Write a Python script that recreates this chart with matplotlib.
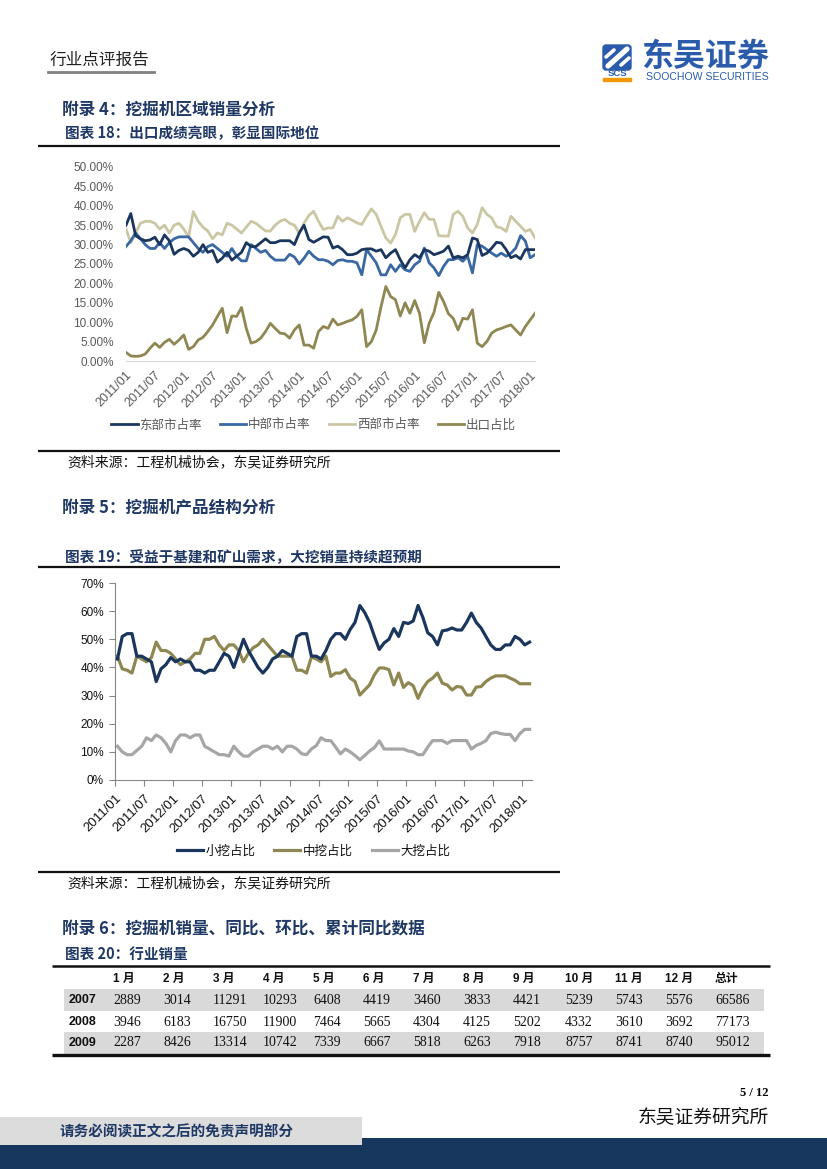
import matplotlib.pyplot as plt
from matplotlib.patches import Rectangle, FancyBboxPatch

plt.rcParams['font.family'] = ['Noto Sans CJK SC', 'DejaVu Sans']

W, H = 827, 1169
AZUL = '#1F3864'

# ================================================================
# DATOS
# ================================================================
etiquetas_meses = ['2011/01', '2011/07', '2012/01', '2012/07', '2013/01', '2013/07', '2014/01', '2014/07',
                   '2015/01', '2015/07', '2016/01', '2016/07', '2017/01', '2017/07', '2018/01']

# Figura 18 (%), 2011/01 - 2018/02
este = [35, 38, 32.3, 31.5, 31, 31.2, 31.9, 30, 32.5, 31, 27.5, 28.5, 29, 28.5, 27, 28, 30, 28, 28.5, 25.5,
        26.5, 28, 26, 27, 28, 30.5, 29.5, 29.5, 30.5, 31.5, 30.5, 30.5, 31, 31, 31, 30, 33, 35, 31.3, 30.6,
        31.3, 32, 31.9, 29.1, 29.6, 28.7, 27.4, 27.4, 27.8, 28.7, 28.9, 28.9, 28.3, 28.7, 26.6, 27.8, 28.7, 26.1, 24, 26.1,
        27.4, 26.6, 28.7, 28.3, 27.4, 27.8, 28.3, 29.6, 26.6, 27, 26.6, 27.4, 31.7, 31.3, 27.2, 27.8, 29.1, 30.6, 30.4, 28.7,
        26.6, 27.2, 26.3, 28.7, 28.7, 28.7]
centro = [29.5, 31, 33, 31.5, 30, 29, 29, 30.5, 29, 30.5, 31.5, 32, 32, 32, 30.5, 29, 28, 29.5, 30, 29,
          28, 27, 29, 27, 25.8, 25.8, 30, 29, 28, 28.5, 27, 26, 26, 26, 27.5, 26.8, 25, 26.5, 28.3, 27,
          26.1, 26.1, 25.7, 24.8, 25.9, 26.1, 25.7, 25.7, 25.3, 22.2, 28.7, 27, 25.3, 22.2, 22.2, 24.8, 23.1, 24.8, 23.5, 23.1,
          24.8, 25.7, 29.1, 25.3, 24, 22, 24.4, 26.1, 26.1, 26.6, 25.7, 27, 22.7, 30, 29.6, 28.7, 27.8, 27, 27.8, 27,
          27.8, 29.1, 32.3, 30.9, 26.6, 27.4]
oeste = [34, 30.5, 33, 35.5, 36, 36, 35.5, 34, 35, 33, 35, 35.5, 34, 32, 38.5, 36, 34.5, 33.5, 31.5, 33,
         32.5, 35.5, 35, 34, 33, 34.5, 36, 35.5, 34.5, 33.5, 33.5, 35, 36, 36.5, 35.5, 35, 33, 35.5, 37.5, 38.6,
         36, 33.9, 34.3, 34.3, 37.3, 36, 36.9, 36.3, 35.6, 35.2, 37.3, 39.2, 37.8, 34.7, 31.7, 30.4, 32.6, 36.9, 37.8, 37.8,
         33.4, 36, 38.2, 36.5, 36.5, 32.3, 32.2, 32.2, 37.8, 38.6, 37.3, 34.3, 33, 35.2, 39.5, 37.8, 36.9, 34.6, 34.3, 33.4,
         37.3, 36, 34.7, 33.4, 33.9, 31.7]
exportacion = [2.2, 1.3, 1.2, 1.3, 1.8, 3.3, 4.6, 3.5, 4.8, 5.6, 4.3, 5.4, 6.7, 3.0, 3.7, 5.4, 6.1, 7.6, 9.3, 11.5,
               13.6, 7.3, 11.6, 11.5, 13.8, 8.4, 4.6, 5, 5.9, 7.6, 9.7, 8.4, 7.2, 7, 5.9, 8, 9.3, 4.1, 4.1, 3.3,
               7.6, 8.9, 8.4, 10.8, 9.3, 9.7, 10.2, 10.6, 11.5, 13.2, 3.7, 5, 8, 14, 19.2, 16.6, 15.8, 11.6, 15, 12.3,
               15.6, 12.3, 4.7, 9.7, 12.5, 17.7, 15.3, 12.2, 11, 8, 11, 10.8, 13.2, 4.6, 3.7, 5, 7.2, 8, 8.4, 8.9,
               9.3, 8, 6.7, 8.9, 10.6, 12.3]

# Figura 19 (%), 2011/01 - 2018/02
pequena = [43, 51, 52, 52, 44, 44, 43, 42, 35, 39.5, 41, 43.5, 42, 43, 42, 42, 39, 39, 38, 39,
           39, 42, 45, 44, 40, 45, 50, 46, 43, 40, 38, 40, 43, 44, 46, 45, 44, 51, 52, 52,
           44, 44, 43, 46, 50, 52, 52, 50, 53.5, 56, 62, 59.5, 56, 51, 46.4, 48.7, 50, 53.8, 51, 56,
           55.6, 56.5, 62, 57.7, 52.3, 51, 48, 53, 53.3, 54, 53.3, 53.3, 56, 59.3, 56, 54, 51, 48, 46.4, 46.4,
           48, 48, 51, 50, 48, 49]
mediana = [44, 39.5, 39, 38, 44, 43, 42, 43.5, 49, 46, 46, 45, 43, 41, 42, 43, 45, 45, 50, 50,
           51, 48, 46, 48, 48, 46, 42, 45, 47, 48, 50, 48, 46, 44, 44, 44, 44, 39, 39, 38,
           43.7, 43, 42, 44, 36.8, 38, 38, 39.2, 36.2, 35, 30.2, 32, 33.8, 37.4, 39.8, 39.8, 39.2, 33.8, 38, 32.9,
           34.6, 33.5, 29, 32.6, 35, 36.2, 38, 34.4, 33.8, 32, 33.2, 33, 30.2, 30.2, 33, 33.2, 35, 36.2, 37, 37,
           37, 36.2, 35.4, 34.2, 34.2, 34.2]
grande = [12, 10, 9, 9, 10.5, 12, 15, 14, 16, 15, 13, 10, 14, 16, 16, 15, 16, 16, 12, 11,
          10, 9, 9, 8.5, 12, 10, 8.5, 8.5, 10, 11, 12, 12, 11, 12, 10, 12, 12, 11, 9.3, 9,
          11, 12.2, 15, 14, 14, 11.7, 9.3, 11, 10, 8.7, 7.2, 8.7, 10.3, 11.5, 13.9, 11, 11, 11, 11, 11,
          10.3, 10, 9, 9, 11.7, 14, 14, 14, 13, 14, 14, 14, 14, 11, 12.3, 13, 14, 16.5, 17, 16.5,
          16.2, 16.2, 14, 16.5, 18, 18]

# Figura 20: ventas de la industria
cabecera_tabla = ['1 月', '2 月', '3 月', '4 月', '5 月', '6 月', '7 月', '8 月', '9 月', '10 月', '11 月', '12 月', '总计']
anios_tabla = ['2007', '2008', '2009']
ventas_2007 = [2889, 3014, 11291, 10293, 6408, 4419, 3460, 3833, 4421, 5239, 5743, 5576, 66586]
ventas_2008 = [3946, 6183, 16750, 11900, 7464, 5665, 4304, 4125, 5202, 4332, 3610, 3692, 77173]
ventas_2009 = [2287, 8426, 13314, 10742, 7339, 6667, 5818, 6263, 7918, 8757, 8741, 8740, 95012]


def caja(l, t, r, b):
    return [l / W, 1 - b / H, (r - l) / W, (b - t) / H]


fig = plt.figure(figsize=(8.27, 11.69), dpi=100)
bg = fig.add_axes([0, 0, 1, 1])
bg.set_xlim(0, W)
bg.set_ylim(H, 0)
bg.axis('off')

# ================================================================
# CABECERA
# ================================================================
bg.text(50, 60, '行业点评报告', fontsize=12, color='#222222', va='center')
bg.plot([48, 154], [72, 72], color='#808080', lw=2)

bg.add_patch(FancyBboxPatch((603, 45), 28, 25, boxstyle='round,pad=0,rounding_size=3', color='#2B5CAB'))
bg.plot([608, 627], [66, 49], color='white', lw=3.8, solid_capstyle='round')
bg.plot([606, 614], [57, 50], color='white', lw=2.6, solid_capstyle='round')
bg.plot([621, 629], [65, 58], color='white', lw=2.6, solid_capstyle='round')
bg.text(617, 74, 'SCS', fontsize=6.8, fontweight='bold', color='#2B5CAB', ha='center', va='center',
        family='Liberation Sans')
bg.add_patch(Rectangle((603, 78), 28, 3, color='#F39800'))
bg.text(769, 57, '东吴证券', fontsize=23, fontweight='bold', color='#2B5CAB', ha='right', va='center')
bg.text(769, 76.5, 'SOOCHOW SECURITIES', fontsize=7.6, color='#2B5CAB', ha='right', va='center',
        family='Liberation Sans')


def titulo(y, texto, tam):
    bg.text(62 if tam > 11 else 65, y, texto, fontsize=tam, fontweight='bold', color=AZUL, va='center')


def regla(y, x0=38, x1=560, lw=1.6):
    bg.plot([x0, x1], [y, y], color='#111111', lw=lw, solid_capstyle='butt')


titulo(110, '附录 4：挖掘机区域销量分析', 12)
titulo(133, '图表 18：出口成绩亮眼，彰显国际地位', 10.5)
regla(146)

# ================================================================
# FIGURA 18
# ================================================================
ax1 = fig.add_axes(caja(126, 167, 535, 361))
x1 = range(len(este))
l1, = ax1.plot(x1, este, color='#1B365D', lw=2.0, label='东部市占率', zorder=4)
l2, = ax1.plot(x1, centro, color='#3A68A3', lw=2.0, label='中部市占率', zorder=3)
l3, = ax1.plot(x1, oeste, color='#CBC6A4', lw=2.0, label='西部市占率', zorder=2)
l4, = ax1.plot(x1, exportacion, color='#8E8752', lw=2.0, label='出口占比', zorder=3)
ax1.set_xlim(0, len(este) - 1)
ax1.set_ylim(0, 50)
for s in ['top', 'right', 'left']:
    ax1.spines[s].set_visible(False)
ax1.spines['bottom'].set_color('#D9D9D9')
ax1.set_yticks(range(0, 51, 5))
ax1.set_yticklabels([f'{v:.2f}%' for v in range(0, 51, 5)], family='Liberation Sans', fontsize=8.5, color='#595959')
ax1.set_xticks(range(0, len(este), 6))
ax1.set_xticklabels(etiquetas_meses, rotation=45, ha='right', rotation_mode='anchor',
                    family='Liberation Sans', fontsize=9, color='#595959')
ax1.tick_params(axis='both', length=0)
ax1.tick_params(axis='y', pad=9)
ax1.tick_params(axis='x', pad=6)

fig.legend(handles=[l1, l2, l3, l4], loc='center', bbox_to_anchor=(313.5 / W, 1 - 425 / H), ncol=4,
           frameon=False, prop={'size': 9}, handlelength=2.1, handletextpad=0.15, columnspacing=1.45,
           labelcolor='#595959')

regla(451)
bg.text(67, 462, '资料来源：工程机械协会，东吴证券研究所', fontsize=10, color='#111111', va='center')

# ================================================================
# FIGURA 19
# ================================================================
titulo(508, '附录 5：挖掘机产品结构分析', 12)
titulo(557, '图表 19：受益于基建和矿山需求，大挖销量持续超预期', 10.5)
regla(567)

ax2 = fig.add_axes(caja(115, 583, 532, 780))
x2 = range(len(pequena))
m1, = ax2.plot(x2, pequena, color='#1B365D', lw=2.3, label='小挖占比', zorder=4)
m2, = ax2.plot(x2, mediana, color='#8E8752', lw=2.3, label='中挖占比', zorder=3)
m3, = ax2.plot(x2, grande, color='#A6A6A6', lw=2.3, label='大挖占比', zorder=2)
ax2.set_xlim(-0.5, len(pequena) - 0.5)
ax2.set_ylim(0, 70)
for s in ['top', 'right']:
    ax2.spines[s].set_visible(False)
for s in ['left', 'bottom']:
    ax2.spines[s].set_color('#868686')
ax2.set_yticks(range(0, 71, 10))
ax2.set_yticklabels([f'{v}%' for v in range(0, 71, 10)], family='Liberation Sans', fontsize=8.5, color='#111111')
ax2.set_xticks([k - 0.5 for k in range(0, len(pequena), 6)])
ax2.set_xticklabels(etiquetas_meses, rotation=45, ha='right', rotation_mode='anchor',
                    family='Liberation Sans', fontsize=9.5, color='#111111')
ax2.tick_params(axis='both', length=4, color='#868686', direction='out')
ax2.tick_params(axis='y', pad=4)
ax2.tick_params(axis='x', pad=5)

fig.legend(handles=[m1, m2, m3], loc='center', bbox_to_anchor=(313.5 / W, 1 - 851 / H), ncol=3,
           frameon=False, prop={'size': 9}, handlelength=2.1, handletextpad=0.2, columnspacing=1.5,
           labelcolor='#111111')

regla(872)
bg.text(67, 883, '资料来源：工程机械协会，东吴证券研究所', fontsize=10, color='#111111', va='center')

# ================================================================
# FIGURA 20 (tabla)
# ================================================================
titulo(929, '附录 6：挖掘机销量、同比、环比、累计同比数据', 12)
titulo(955, '图表 20：行业销量', 10.5)

filas = [ventas_2007, ventas_2008, ventas_2009]
y_filas = [1000, 1022, 1043]
x_cols = [113 + 50 * i + (2 if i >= 9 else 0) for i in range(len(cabecera_tabla))]

for i, y in enumerate(y_filas):
    if i % 2 == 0:
        bg.add_patch(Rectangle((64, y - 11), 700, 21.5, color='#D9D9D9', lw=0))
regla(966, 52, 770, 1.8)
regla(1055, 52, 770, 2.4)

for x, cab in zip(x_cols, cabecera_tabla):
    bg.text(x, 979, cab, fontsize=8.5, fontweight='bold', color='#111111', va='center',
            family=['Liberation Sans', 'Noto Sans CJK SC'])
for anio, fila, y in zip(anios_tabla, filas, y_filas):
    bg.text(69, y, anio, fontsize=9, fontweight='bold', color='#111111', va='center', family='Liberation Sans')
    for x, v in zip(x_cols, fila):
        bg.text(x, y, str(v), fontsize=10, color='#111111', va='center', family='Liberation Serif')

# ================================================================
# PIE DE PAGINA
# ================================================================
bg.text(769, 1093, '5 / 12', fontsize=9, fontweight='bold', ha='right', va='center', family='Liberation Serif')
bg.text(769, 1118, '东吴证券研究所', fontsize=13.5, color='#111111', ha='right', va='center')
bg.add_patch(Rectangle((0, 1138), W, H - 1138, color='#17375E', lw=0))
bg.add_patch(Rectangle((0, 1117), 362, 28, color='#DCDCDC', lw=0))
bg.text(60, 1131, '请务必阅读正文之后的免责声明部分', fontsize=10.5, fontweight='bold', color=AZUL, va='center')

fig.savefig('out.png', dpi=100)
